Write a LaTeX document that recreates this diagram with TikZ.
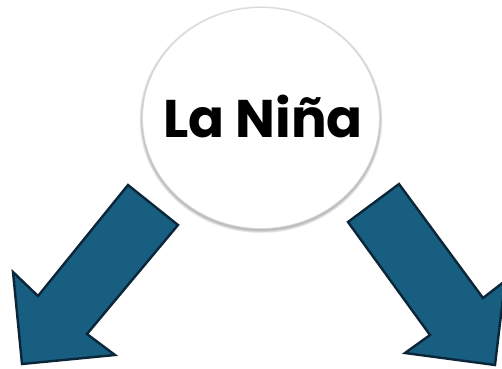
\documentclass[tikz,border=0pt]{standalone}
\usepackage{fontspec}
\setmainfont{Poppins}
\usetikzlibrary{shapes.geometric}
\definecolor{arrowfill}{RGB}{23,94,128}
\definecolor{arrowline}{RGB}{10,38,56}
\begin{document}
\begin{tikzpicture}[x=1pt,y=-1pt,
  bigarrow/.style={fill=arrowfill,draw=arrowline,line width=2.4pt,line join=miter},
  bubble/.style={ellipse,draw=black!15,line width=0.8pt,fill=white,minimum width=237pt,minimum height=221pt,inner sep=0pt},
  halo/.style={ellipse,fill=black,fill opacity=0.06,draw=none,inner sep=0pt}]
\useasboundingbox (0,0) rectangle (502,368);
\foreach \g in {1,...,5}{
  \node[halo,minimum width={237pt+\g*1.2pt},minimum height={221pt+\g*1.2pt}] at (261,{118+1.6}) {};
}
\node[bubble] (nina) at (261,118) {};
\node[font=\bfseries\fontsize{53}{60}\selectfont] (label) at (263,116) {La Niña};
% left arrow
\draw[bigarrow] (128,185) -- (178,225) -- (87,334) -- (115,355) -- (22,364) -- (13,272) -- (38,296) -- cycle;
% right arrow
\draw[bigarrow] (348,222) -- (399,184) -- (483,298) -- (505,281) -- (495,365) -- (405,353) -- (430,335) -- cycle;
\end{tikzpicture}
\end{document}
